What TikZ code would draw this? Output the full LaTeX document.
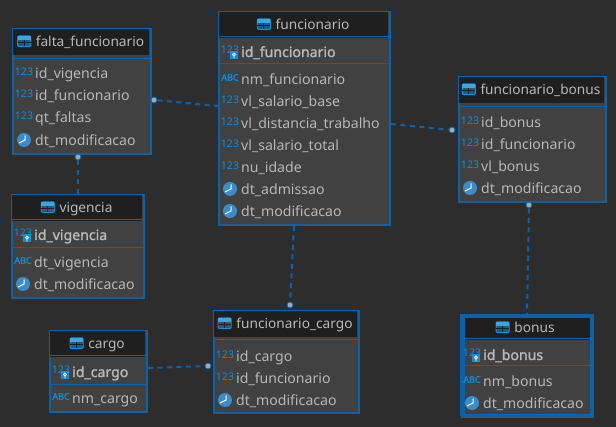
\documentclass[tikz,border=0pt]{standalone}
\usepackage{fontspec}
\setmainfont{Noto Sans}
\newfontfamily\heavyfont{Noto Sans}[FakeBold=1.6]
\definecolor{bgcol}{HTML}{2D2D2D}
\definecolor{panelcol}{HTML}{414141}
\definecolor{headcol}{HTML}{1F1F1F}
\definecolor{edgecol}{HTML}{0B62A8}
\definecolor{iconcol}{HTML}{0E8FD6}
\definecolor{clockcol}{HTML}{3B8CCB}
\definecolor{textcol}{HTML}{B8B8B8}
\definecolor{dotcol}{HTML}{A0AAB4}
\tikzset{
	tablebox/.style = {draw = edgecol, fill = panelcol, line width = 2pt, anchor = north west, inner sep = 0pt},
	headbox/.style = {fill = headcol, anchor = north west, inner sep = 0pt},
	rowtext/.style = {text = textcol, anchor = base west, inner sep = 0pt, font = \fontsize{14.1}{16}\selectfont},
	titletext/.style = {text = textcol, anchor = base, inner sep = 0pt, font = \fontsize{13.7}{16}\selectfont},
	keytext/.style = {rowtext, font = \heavyfont\fontsize{14.1}{16}\selectfont},
	numicon/.style = {text = iconcol, inner sep = 0pt, font = \fontsize{10.5}{11}\selectfont},
	abcicon/.style = {text = iconcol, inner sep = 0pt, font = \heavyfont\fontsize{9}{10}\selectfont},
	relline/.style = {draw = edgecol, line width = 2pt, dash pattern = on 5pt off 4.5pt},
	reldot/.style = {circle, fill = dotcol, draw = edgecol, line width = 0.8pt, inner sep = 0pt, minimum size = 6pt},
	septhin/.style = {draw = edgecol, line width = 1pt}
}
% #1 name, #2 x, #3 y, #4 w, #5 h, #6 head height, #7 y of the second line, #8 title
\newcommand{\dbtable}[8]{
	\node (#1) [tablebox, minimum width = #4pt, minimum height = #5pt] at (#2,#3) {};
	\node (#1_head) [headbox, minimum width = #4pt - 2pt, minimum height = #6pt] at (#2+1,#3+1) {};
	\draw [septhin] (#2,#7) -- (#2+#4,#7);
	\node (#1_title) [titletext] at (#2+#4/2+9,#3+19) {#8};
	\draw [iconcol, line width = 1pt, fill = iconcol!55!headcol, rounded corners = 1pt] ([shift = {(-18,-0.5)}]#1_title.base west) rectangle ([shift = {(-5,-11)}]#1_title.base west);
	\fill [iconcol!80!white] ([shift = {(-18,-11)}]#1_title.base west) rectangle ([shift = {(-5,-7)}]#1_title.base west);
	\draw [headcol, line width = 1pt] ([shift = {(-18,-4)}]#1_title.base west) -- ([shift = {(-5,-4)}]#1_title.base west) ([shift = {(-11.5,-7)}]#1_title.base west) -- ([shift = {(-11.5,-0.5)}]#1_title.base west);
}
\newcommand{\dorow}[4]{ % name, kind, y, text
	\csname row#2\endcsname{#1}{#3}{#4}
}
\newcommand{\rownum}[3]{
	\node (#1_icon#2) [numicon] at (\iconx,#2-1) {123};
	\node (#1_row#2) [rowtext] at (\iconx+11,#2+6) {#3};
}
\newcommand{\rowabc}[3]{
	\node (#1_icon#2) [abcicon] at (\iconx,#2-1.5) {ABC};
	\node (#1_row#2) [rowtext] at (\iconx+11,#2+6) {#3};
}
\newcommand{\rowclock}[3]{
	\node (#1_icon#2) [circle, fill = clockcol, inner sep = 0pt, minimum size = 14pt] at (\iconx,#2) {};
	\draw [white, line width = 1pt] (\iconx+1,#2-4.5) -- (\iconx+1,#2) -- (\iconx-5,#2+3);
	\node (#1_row#2) [rowtext] at (\iconx+11,#2+6) {#3};
}
\newcommand{\rowkey}[3]{
	\node (#1_icon#2) [numicon] at (\iconx,#2-1) {123};
	\node (#1_lock#2) [fill = iconcol, inner sep = 0pt, minimum width = 8pt, minimum height = 8pt] at (\iconx+4,#2+4.5) {};
	\draw [white, line width = 0.9pt] (\iconx+4,#2+3.5) circle (1.5pt) (\iconx+4,#2+5) -- (\iconx+4,#2+7.5);
	\node (#1_row#2) [keytext] at (\iconx+11,#2+6) {#3};
}
\begin{document}
\begin{tikzpicture}[x = 1pt, y = -1pt]
	\useasboundingbox (0,0) rectangle (616,427);
	\fill [bgcol] (0,0) rectangle (616,427);

	% tables
	\dbtable{falta}{12}{28}{138}{125}{26}{59}{falta\_funcionario}
	\dbtable{funcionario}{218}{11}{171}{213}{26}{64}{funcionario}
	\dbtable{fbonus}{458}{76}{147}{125}{26}{107}{funcionario\_bonus}
	\dbtable{vigencia}{11}{194}{132}{103}{26}{248}{vigencia}
	\dbtable{cargo}{49}{330}{97}{81}{26}{385}{cargo}
	\dbtable{fcargo}{213}{310}{145}{102}{26}{340}{funcionario\_cargo}
	\dbtable{bonus}{460}{314}{131}{100}{25}{366}{bonus}
	\node (bonus_edge) [draw = edgecol, line width = 3.5pt, anchor = north west, inner sep = 0pt, minimum width = 129pt, minimum height = 100pt] at (461,314.5) {};
	\draw [septhin] (218,37) -- (389,37) (11,220) -- (143,220) (49,356) -- (146,356) (461,339) -- (590,339);

	% rows
	\def\iconx{24}
	\foreach \kind/\yy/\txt in {num/73/id\_vigencia, num/95/id\_funcionario, num/117/qt\_faltas, clock/140/dt\_modificacao}
		{\dorow{falta}{\kind}{\yy}{\txt}}
	\def\iconx{230}
	\foreach \kind/\yy/\txt in {key/51/id\_funcionario, abc/79/nm\_funcionario, num/101/vl\_salario\_base, num/123/vl\_distancia\_trabalho, num/145/vl\_salario\_total, num/167/nu\_idade, clock/189/dt\_admissao, clock/211/dt\_modificacao}
		{\dorow{funcionario}{\kind}{\yy}{\txt}}
	\def\iconx{470}
	\foreach \kind/\yy/\txt in {num/122/id\_bonus, num/144/id\_funcionario, num/166/vl\_bonus, clock/188/dt\_modificacao}
		{\dorow{fbonus}{\kind}{\yy}{\txt}}
	\def\iconx{23}
	\foreach \kind/\yy/\txt in {key/234/id\_vigencia, abc/262/dt\_vigencia, clock/284/dt\_modificacao}
		{\dorow{vigencia}{\kind}{\yy}{\txt}}
	\def\iconx{61}
	\foreach \kind/\yy/\txt in {key/371/id\_cargo, abc/398/nm\_cargo}
		{\dorow{cargo}{\kind}{\yy}{\txt}}
	\def\iconx{225}
	\foreach \kind/\yy/\txt in {num/356/id\_cargo, num/378/id\_funcionario, clock/400/dt\_modificacao}
		{\dorow{fcargo}{\kind}{\yy}{\txt}}
	\def\iconx{472}
	\foreach \kind/\yy/\txt in {key/354/id\_bonus, abc/381/nm\_bonus, clock/403/dt\_modificacao}
		{\dorow{bonus}{\kind}{\yy}{\txt}}

	% relations
	\node (dot_falta) [reldot] at (154,100) {};
	\node (dot_vigencia) [reldot] at (78,157) {};
	\node (dot_fbonus) [reldot] at (452,130) {};
	\node (dot_fcargo) [reldot] at (290,305) {};
	\node (dot_bonus) [reldot] at (529,205) {};
	\node (dot_cargo) [reldot] at (208,366) {};
	\draw [relline] (dot_falta) -- (funcionario.west |- 0,106);
	\draw [relline] (dot_vigencia) -- (vigencia.north -| 78,0);
	\draw [relline] (funcionario.east |- 0,124) -- (dot_fbonus);
	\draw [relline] (funcionario.south -| 294,0) -- (dot_fcargo);
	\draw [relline] (dot_bonus) -- (bonus_edge.north -| 527,0);
	\draw [relline] (cargo.east |- 0,368) -- (dot_cargo);
\end{tikzpicture}
\end{document}
